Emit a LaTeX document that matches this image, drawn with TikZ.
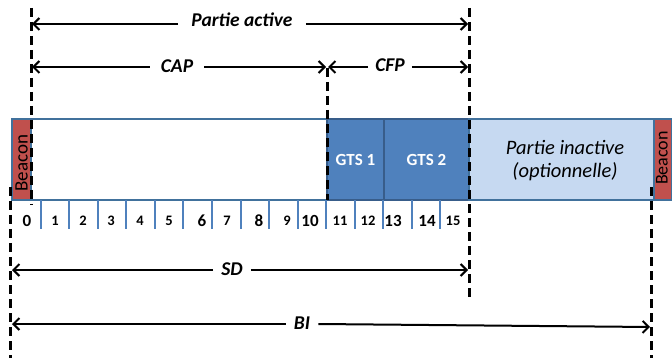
\documentclass[tikz,border=0pt]{standalone}
\usepackage{fontspec}
\setmainfont{Carlito}
\usetikzlibrary{arrows.meta}
\definecolor{framecol}{HTML}{41719C}
\definecolor{gtsfill}{HTML}{4F81BD}
\definecolor{gtsline}{HTML}{385D8A}
\definecolor{inactfill}{HTML}{C6D9F1}
\definecolor{beaconfill}{HTML}{C0504D}
\definecolor{tickcol}{HTML}{4F81BD}
\tikzset{
  seg/.style={draw=framecol, line width=1.3pt, inner sep=0pt, outer sep=0pt, anchor=north west, minimum height=81pt},
  dashline/.style={line width=3pt, dash pattern=on 9pt off 5pt},
  dimarrow/.style={line width=2pt, -{Straight Barb[length=6pt,width=12pt]}},
  dimlabel/.style={font=\fontsize{19.5}{21}\selectfont\bfseries\itshape, inner sep=0pt},
  tickline/.style={draw=tickcol, line width=2pt},
  bignum/.style={font=\fontsize{17}{18}\selectfont\bfseries, inner sep=0pt},
  smallnum/.style={font=\fontsize{14.5}{16}\selectfont\bfseries, inner sep=0pt},
  beaconlabel/.style={font=\fontsize{19}{22}\selectfont, rotate=90, inner sep=0pt},
}
\begin{document}
\begin{tikzpicture}[x=1pt,y=-1pt]
\useasboundingbox (0,0) rectangle (672,358);

% superframe bar
\node[seg, fill=beaconfill, minimum width=19pt] (bcn1) at (12,119) {};
\node[seg, fill=white, minimum width=296pt] (cap) at (31,119) {};
\node[seg, fill=gtsfill, draw=gtsline, minimum width=57pt] (gts1) at (327,119) {};
\node[seg, fill=gtsfill, draw=gtsline, minimum width=85pt] (gts2) at (384,119) {};
\node[seg, fill=inactfill, minimum width=185pt] (inact) at (469,119) {};
\node[seg, fill=beaconfill, minimum width=18pt] (bcn2) at (654,119) {};

\node[beaconlabel] (bt1) at (21.5,163) {Beacon};
\node[beaconlabel, font=\fontsize{18}{20}\selectfont] (bt2) at (662,158) {Beacon};
\node[font=\fontsize{17}{18}\selectfont\bfseries, text=white] (g1) at (gts1.center) {GTS 1};
\node[font=\fontsize{17}{18}\selectfont\bfseries, text=white] (g2) at (gts2.center) {GTS 2};
\node[font=\fontsize{20.5}{23}\selectfont\itshape, align=center] (inl) at (565,160.5) {Partie inactive\\(optionnelle)};

% slot ticks
\foreach \k in {1,...,15} {
  \draw[tickline] ({12+28.5625*\k},200) -- ({12+28.5625*\k},229);
}

% slot numbers
\foreach \xx/\lab/\sty in {27/0/bignum, 55/1/smallnum, 83/2/smallnum, 111/3/smallnum,
    140/4/smallnum, 169/5/smallnum, 202/6/bignum, 227/7/smallnum, 259/8/bignum,
    287/9/smallnum, 310/10/bignum, 340/11/smallnum, 368/12/smallnum, 393/13/bignum,
    427/14/bignum, 453/15/smallnum} {
  \node[\sty] (n\lab) at (\xx,221) {\lab};
}

% boundary markers
\coordinate (aTop) at (31,8);
\coordinate (aBot) at (31,205);
\coordinate (cTop) at (327,68);
\coordinate (cBot) at (327,200);
\coordinate (eTop) at (469,8);
\coordinate (eBot) at (469,297);
\coordinate (lTop) at (10,187);
\coordinate (lBot) at (10,358);
\coordinate (rTop) at (651,187);
\coordinate (rBot) at (651,358);
\draw[dashline] (aTop) -- (aBot);
\draw[dashline] (cTop) -- (cBot);
\draw[dashline] (eTop) -- (eBot);
\draw[dashline] (lTop) -- (lBot);
\draw[dashline] (rTop) -- (rBot);

% dimension arrows
\coordinate (paL) at (32,24);
\coordinate (paR) at (468,24);
\node[dimlabel, inner xsep=13pt] (pa) at (242,20) {Partie active};
\draw[dimarrow] (pa.west |- paL) -- (paL);
\draw[dimarrow] (pa.east |- paR) -- (paR);

\coordinate (capL) at (32,67);
\coordinate (capR) at (326,67);
\node[dimlabel, inner xsep=11pt] (capt) at (177,66) {CAP};
\draw[dimarrow] (capt.west |- capL) -- (capL);
\draw[dimarrow] (capt.east |- capR) -- (capR);

\coordinate (cfpL) at (328,67);
\coordinate (cfpR) at (468,67);
\node[dimlabel, inner xsep=7pt] (cfpt) at (390,65) {CFP};
\draw[dimarrow] (cfpt.west |- cfpL) -- (cfpL);
\draw[dimarrow] (cfpt.east |- cfpR) -- (cfpR);

\coordinate (sdL) at (12,270);
\coordinate (sdR) at (468,270);
\node[dimlabel, inner xsep=8pt] (sdt) at (232,269) {SD};
\draw[dimarrow] (sdt.west |- sdL) -- (sdL);
\draw[dimarrow] (sdt.east |- sdR) -- (sdR);

\coordinate (biL) at (12,324);
\coordinate (biR) at (650,327);
\node[dimlabel, inner xsep=8pt] (bit) at (302,323) {BI};
\draw[dimarrow] (bit.west |- biL) -- (biL);
\draw[dimarrow] (bit.east |- biL) -- (biR);
\end{tikzpicture}
\end{document}
